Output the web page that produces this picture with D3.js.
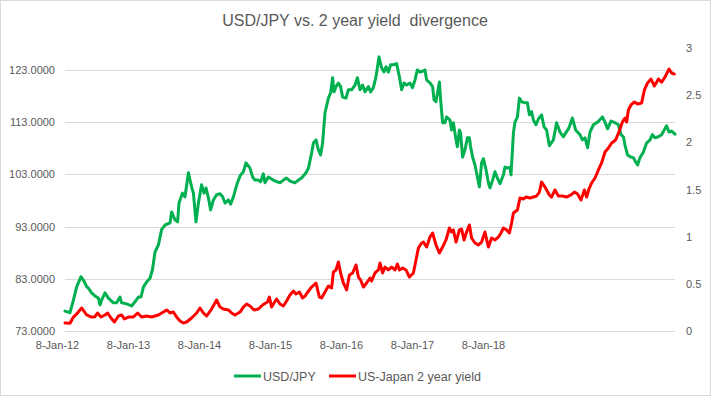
<!DOCTYPE html>
<html><head><meta charset="utf-8">
<script src="https://cdn.jsdelivr.net/npm/d3@7"></script>
<style>
body{margin:0;background:#fff}
svg text{font-family:"Liberation Sans",Arial,sans-serif}
</style>
</head><body>
<svg id="chart" width="711" height="396"></svg>
<script>
const chartTitle = "USD/JPY vs. 2 year yield  divergence";
const seriesNames = ["USD/JPY", "US-Japan 2 year yield"];
const xTickLabels = ["8-Jan-12","8-Jan-13","8-Jan-14","8-Jan-15","8-Jan-16","8-Jan-17","8-Jan-18"];
const xTickObs = [0, 35.5, 71, 106.5, 142, 177.5, 213];
const leftTicks = [73, 83, 93, 103, 113, 123];
const rightTicks = [0, 0.5, 1, 1.5, 2, 2.5, 3];

// [observation index, USD/JPY]
const usdjpy = [[0,76.8],[2.5,76.5],[4.2,78.9],[5.8,81.4],[8,83.4],[9.7,82.4],[10.8,81.5],[11.7,81.2],[13.3,80.3],[15,79.7],[16.7,79.3],[17.5,78.0],[18.3,78.9],[20,80.3],[21.7,79.3],[24.2,78.4],[25.8,78.4],[27.5,79.5],[28.3,78.4],[30.8,78.2],[33.3,77.8],[35,78.6],[36.7,79.5],[38,79.5],[39.2,81.4],[40.8,82.4],[42.5,83.1],[43.7,84.7],[45,88.1],[46.7,89.5],[48.3,92.4],[50,93.3],[52.5,93.7],[53.3,95.8],[55,94.3],[56.3,93.9],[57,97.5],[58.7,99.4],[60,98.7],[61.7,103.3],[63.3,100.6],[64.2,99.4],[65.5,93.9],[66.7,97.5],[68.3,101.0],[69.5,99.4],[70.5,100.4],[71.7,98.5],[72.8,96.2],[74.2,98.1],[75.8,99.1],[77.5,99.3],[78.8,98.7],[80,97.5],[81.7,98.1],[82.8,97.3],[84.2,98.7],[86.2,101.4],[87.8,102.9],[89.2,103.5],[90.5,105.2],[92.5,104.2],[93.8,102.5],[95,101.9],[96.7,101.9],[97.8,101.6],[99.2,103.1],[100,101.4],[101.7,102.5],[102.5,102.3],[104.2,101.9],[105.8,101.6],[107.5,101.4],[109.2,101.9],[110.8,102.3],[112.5,101.7],[115,101.4],[116.7,101.9],[118.3,102.3],[120.5,103.3],[121.7,104.2],[123.3,107.1],[124.2,109.0],[125.5,109.6],[126.7,107.7],[127.8,106.7],[128.8,109.0],[130,114.8],[131.7,117.6],[132.8,118.6],[133.8,121.5],[134.5,118.8],[135.5,119.8],[136.7,120.5],[137.8,119.8],[138.8,117.8],[140.5,117.6],[141.7,119.2],[143.3,119.2],[145,120.1],[146.2,121.5],[147.5,119.2],[148.8,120.1],[150,118.8],[151.7,119.8],[152.8,118.8],[154.2,119.6],[155.5,121.7],[157,125.5],[158.3,123.4],[159.5,122.6],[160.5,123.6],[161.7,122.6],[162.8,124.0],[164.2,124.0],[165.8,124.2],[167.2,121.7],[168.3,119.2],[169.5,120.5],[170.8,120.1],[172.5,120.5],[173.8,119.6],[175,121.1],[176.2,123.0],[177.5,122.6],[179.2,122.8],[180,123.0],[180.8,121.1],[182.5,120.5],[183.8,119.8],[184.5,117.3],[185.5,116.9],[187.2,120.7],[187.8,117.3],[188.8,112.9],[190,112.9],[190.8,114.0],[192.5,113.4],[193.3,111.5],[194.2,112.9],[195.5,109.6],[196.2,108.3],[197.2,111.5],[197.8,110.9],[198.8,106.3],[200,107.7],[201.2,110.0],[202.2,110.0],[202.8,108.3],[203.8,106.3],[205,104.8],[206.2,102.5],[207.2,100.6],[208.3,105.2],[209.2,106.0],[210.5,103.9],[211.7,101.4],[212.5,100.4],[213.8,101.9],[215,103.5],[216.2,102.3],[217.5,101.2],[219.2,102.9],[220,104.4],[221.2,104.2],[222.5,104.4],[223,102.9],[224.2,110.9],[225,113.0],[226.2,114.0],[227.2,117.6],[228.3,116.9],[230,116.7],[231.2,116.7],[232.2,114.4],[233.3,115.0],[234.2,113.4],[235.5,112.5],[236.7,113.6],[238.3,114.4],[239.5,112.1],[240.8,111.5],[242.2,108.5],[244.2,109.6],[245.8,112.9],[247.5,111.1],[249.2,110.2],[250.3,110.9],[252,111.9],[253.7,113.8],[255.3,111.5],[257.5,110.6],[258.7,109.6],[260,110.0],[261.3,108.1],[262.5,111.1],[264.2,112.5],[266.3,113.0],[268.7,114.0],[270,113.0],[271.3,111.7],[273,113.2],[275,112.9],[276.7,112.5],[278,110.6],[279.2,110.2],[280,108.6],[281.3,106.7],[283,106.3],[284.2,106.2],[285.3,105.4],[286.3,104.8],[287.5,106.2],[289.2,107.3],[290.8,109.0],[292.5,109.6],[293.7,110.6],[295,110.0],[296.7,110.2],[298.3,110.6],[300.8,112.3],[302,111.1],[303.3,111.3],[305,110.7]];

// [observation index, US-Japan 2 year yield spread]
const yieldSpread = [[0,0.085],[2.5,0.082],[4.2,0.148],[5.8,0.18],[8.3,0.244],[10.8,0.17],[13.3,0.148],[15,0.152],[16.3,0.191],[18,0.148],[20,0.17],[21.3,0.191],[23,0.138],[24.7,0.095],[26.7,0.159],[28.3,0.17],[29.7,0.127],[31.7,0.148],[34.2,0.148],[36.3,0.191],[38.3,0.148],[40.8,0.159],[43.3,0.148],[45,0.159],[46.7,0.17],[49.2,0.201],[50.8,0.223],[52.5,0.191],[54.2,0.201],[55.8,0.148],[57.5,0.106],[59.2,0.085],[60.8,0.095],[63.3,0.138],[65.8,0.191],[67.5,0.244],[69.2,0.191],[70.8,0.159],[73.3,0.233],[75.8,0.329],[77.5,0.254],[79.2,0.233],[81.7,0.223],[83.3,0.191],[85,0.17],[87.5,0.201],[89.2,0.254],[90.8,0.286],[92.5,0.265],[94.5,0.223],[96.7,0.233],[98.8,0.276],[101.2,0.307],[102.2,0.36],[103.3,0.254],[104.5,0.297],[105.8,0.339],[107.5,0.286],[109.2,0.265],[110.8,0.318],[112.5,0.382],[114.2,0.424],[115.5,0.392],[117.2,0.413],[118.8,0.35],[120,0.37],[121,0.403],[123.3,0.466],[125.5,0.509],[127.2,0.36],[128.3,0.35],[130,0.413],[131.7,0.477],[133.3,0.456],[134.2,0.625],[135.5,0.647],[136.7,0.731],[137.8,0.615],[139.2,0.509],[140.8,0.435],[142.2,0.594],[143.8,0.615],[145.5,0.7],[146.7,0.572],[147.8,0.541],[149.2,0.466],[150.8,0.509],[152.5,0.562],[153.3,0.53],[155,0.615],[156.7,0.647],[157.5,0.721],[158.8,0.615],[160,0.678],[161.7,0.647],[163.3,0.678],[165,0.647],[166.2,0.71],[167.2,0.647],[168.8,0.668],[170.5,0.647],[172.2,0.572],[174.2,0.615],[175.5,0.753],[176.7,0.88],[178.3,0.933],[179.2,0.943],[180.8,0.89],[182.5,0.996],[183.8,1.039],[185.5,0.912],[187.2,0.827],[188.8,0.89],[190.5,0.965],[192.2,1.092],[193.3,1.049],[194.2,1.071],[195.5,0.943],[197.2,1.071],[198.3,1.081],[199.5,0.965],[200.8,1.049],[202.2,1.124],[203.3,0.986],[205,0.933],[206.7,0.912],[208.3,0.943],[210,1.049],[211.7,0.89],[213.3,0.986],[215,0.965],[216.7,0.996],[218,1.039],[219.2,1.092],[220.8,1.071],[222.2,1.039],[223.3,1.145],[224.2,1.251],[226.2,1.283],[227.5,1.41],[229.2,1.4],[230.5,1.42],[232.5,1.41],[234.2,1.42],[235.8,1.431],[237.2,1.473],[238.3,1.579],[240,1.526],[240.8,1.495],[242.2,1.442],[243.3,1.42],[245,1.495],[246.7,1.431],[248.7,1.431],[250.8,1.42],[253,1.442],[254.7,1.473],[256.3,1.452],[258,1.389],[259.7,1.495],[260.8,1.42],[262,1.505],[263.3,1.569],[265,1.622],[266.7,1.707],[268.3,1.781],[270,1.898],[271.7,1.94],[273.3,1.993],[275.3,2.025],[277,2.11],[278.7,2.215],[280,2.258],[280.8,2.215],[281.7,2.343],[283,2.396],[284.7,2.428],[286.3,2.406],[288.3,2.417],[289.7,2.555],[291.3,2.629],[293,2.671],[294.7,2.597],[296.7,2.671],[298.3,2.639],[300,2.692],[302,2.777],[303.3,2.735],[304.7,2.724]];

const colors = ["#00B050", "#FF0000"];

const svg = d3.select("#chart");
const W = 711, H = 396;
const plot = {left: 65, right: 675, top: 48, bottom: 331};

svg.append("rect").attr("x",0.5).attr("y",0.5).attr("width",W-1).attr("height",H-1)
  .attr("fill","#fff").attr("stroke","#D9D9D9");

const x = d3.scaleLinear().domain([0, 305]).range([plot.left, plot.right]);
const yL = d3.scaleLinear().domain([73, 127.2]).range([plot.bottom, plot.top]);
const yR = d3.scaleLinear().domain([0, 3]).range([plot.bottom, plot.top]);

// gridlines
svg.append("g").selectAll("line").data(leftTicks).join("line")
  .attr("x1", plot.left).attr("x2", plot.right)
  .attr("y1", d => Math.round(yL(d)) + 0.5).attr("y2", d => Math.round(yL(d)) + 0.5)
  .attr("stroke", "#D9D9D9").attr("stroke-width", 1);

// left axis
const axL = svg.append("g").attr("transform", `translate(${plot.left},0)`)
  .call(d3.axisLeft(yL).tickValues(leftTicks).tickFormat(d3.format(".4f")).tickSize(0).tickPadding(10));
axL.select(".domain").remove();
axL.selectAll("text").attr("fill","#595959").style("font-size","11px");

// right axis
const axR = svg.append("g").attr("transform", `translate(${plot.right},0)`)
  .call(d3.axisRight(yR).tickValues(rightTicks).tickFormat(d => String(d)).tickSize(0).tickPadding(11));
axR.select(".domain").remove();
axR.selectAll("text").attr("fill","#595959").style("font-size","11px");

// bottom axis
const axB = svg.append("g").attr("transform", `translate(0,${plot.bottom})`)
  .call(d3.axisBottom(x).tickValues(xTickObs).tickFormat((d,i) => xTickLabels[i]).tickSize(0).tickPadding(10));
axB.select(".domain").remove();
axB.selectAll("text").attr("fill","#595959").style("font-size","11px").attr("dx", -8);

// lines
const lineL = d3.line().x(d => x(d[0])).y(d => yL(d[1]));
const lineR = d3.line().x(d => x(d[0])).y(d => yR(d[1]));
svg.append("path").datum(usdjpy).attr("d", lineL).attr("fill","none")
  .attr("stroke", colors[0]).attr("stroke-width", 3).attr("stroke-linejoin","round").attr("stroke-linecap","round");
svg.append("path").datum(yieldSpread).attr("d", lineR).attr("fill","none")
  .attr("stroke", colors[1]).attr("stroke-width", 3).attr("stroke-linejoin","round").attr("stroke-linecap","round");

// title
svg.append("text").attr("x", 355).attr("y", 26).attr("text-anchor","middle")
  .attr("fill","#595959").style("font-size","16px").style("white-space","pre").text(chartTitle);

// legend
const legendItems = [{x: 234, name: seriesNames[0], c: colors[0]}, {x: 329, name: seriesNames[1], c: colors[1]}];
const lg = svg.append("g").selectAll("g").data(legendItems).join("g")
  .attr("transform", d => `translate(${d.x},376)`);
lg.append("line").attr("x1",0).attr("x2",27).attr("y1",0).attr("y2",0)
  .attr("stroke", d => d.c).attr("stroke-width", 3);
lg.append("text").attr("x", 29).attr("y", 4.5).attr("fill","#595959").style("font-size","12.5px").text(d => d.name);
</script>
</body></html>
